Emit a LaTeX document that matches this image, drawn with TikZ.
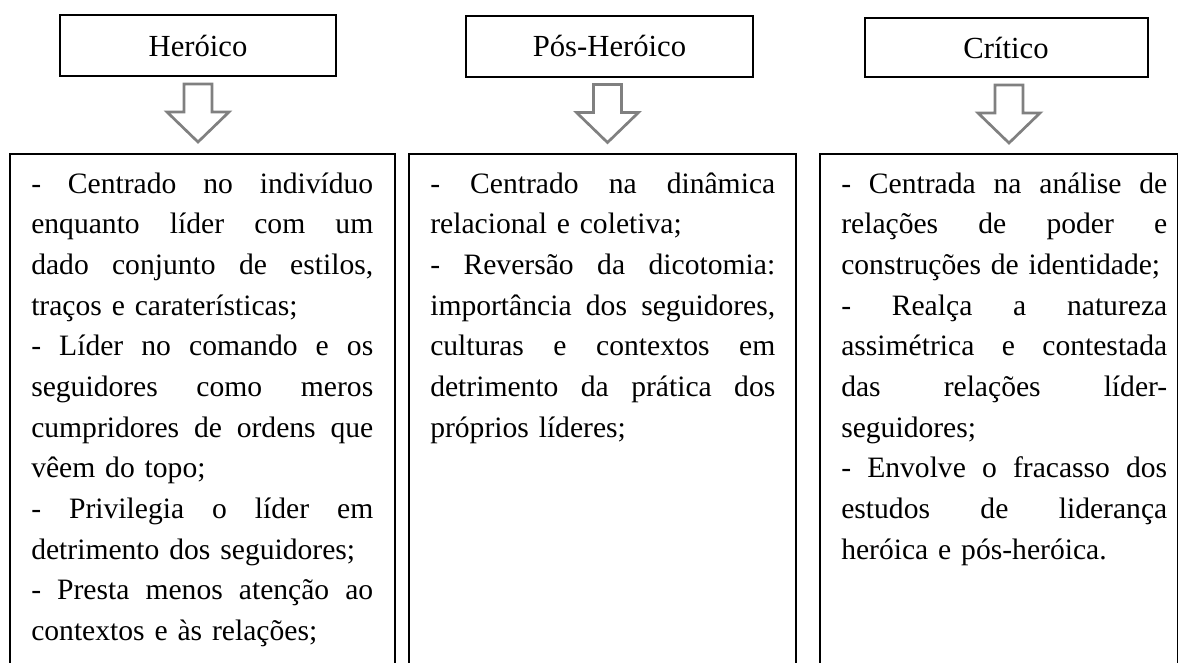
\documentclass[tikz,border=0pt]{standalone}
\usepackage{fontspec}
\setmainfont{Liberation Serif}
\newlength{\pxu}
\setlength{\pxu}{0.75pt}
\definecolor{arrowgray}{RGB}{128,128,128}
%% one justified line of a column
\newcommand{\jl}[1]{\makebox[\hsize][s]{\spaceskip=0pt\xspaceskip=0pt\strut #1}}
\begin{document}
\begin{tikzpicture}[x=0.75pt,y=-0.75pt,
    headbox/.style={draw,line width=2\pxu,minimum height=61\pxu,inner sep=0pt,
        font=\fontsize{23}{30.5}\selectfont},
    colbox/.style={draw,line width=2\pxu,anchor=north west,minimum height=547\pxu,inner sep=0pt},
    coltext/.style={anchor=north west,inner sep=0pt,align=left,
        font=\fontsize{22.2}{30.5}\selectfont},
    hollow/.style={draw=arrowgray,line width=2.7\pxu,line join=miter,fill=white}]
    \useasboundingbox (0,0) rectangle (1178,662);
    \clip (0,0) rectangle (1178,662);
    %% Headings
    \node[headbox,minimum width=276\pxu] (H) at (198,45.5) {Heróico};
    \node[headbox,minimum width=287\pxu] (P) at (609.5,46) {Pós-Heróico};
    \node[headbox,minimum width=283\pxu,minimum height=59\pxu] (C) at (1006,47.5) {Crítico};
    %% Columns
    \node[colbox,minimum width=385\pxu] (BH) at (9,153) {};
    \node[colbox,minimum width=387\pxu] (BP) at (408,153) {};
    \node[colbox,minimum width=358\pxu] (BC) at (819,153) {};
    %% Arrows
    \draw[hollow] (H.south) ++(-14,7) -- ++(0,28) -- ++(-17,0) -- ++(31,30)
        -- ++(31,-30) -- ++(-17,0) -- ++(0,-28) -- cycle;
    \draw[hollow] (P.south) ++(-16,7) -- ++(0,28) -- ++(-17,0) -- ++(31,30)
        -- ++(31,-30) -- ++(-17,0) -- ++(0,-28) -- cycle;
    \draw[hollow] (C.south) ++(-11,7) -- ++(0,28) -- ++(-17,0) -- ++(31,30)
        -- ++(31,-30) -- ++(-17,0) -- ++(0,-28) -- cycle;
    %% Texts
    \node[coltext,text width=342\pxu] (TH) at (31,164.5) {%
        \jl{- Centrado no indivíduo}\\
        \jl{enquanto líder com um}\\
        \jl{dado conjunto de estilos,}\\
        \strut traços e caraterísticas;\\
        \jl{- Líder no comando e os}\\
        \jl{seguidores como meros}\\
        \jl{cumpridores de ordens que}\\
        \strut vêem do topo;\\
        \jl{- Privilegia o líder em}\\
        \strut detrimento dos seguidores;\\
        \jl{- Presta menos atenção ao}\\
        \strut contextos e às relações;};
    \node[coltext,text width=345\pxu] (TP) at (430,164.5) {%
        \jl{- Centrado na dinâmica}\\
        \strut relacional e coletiva;\\
        \jl{- Reversão da dicotomia:}\\
        \jl{importância dos seguidores,}\\
        \jl{culturas e contextos em}\\
        \jl{detrimento da prática dos}\\
        \strut próprios líderes;};
    \node[coltext,text width=326\pxu] (TC) at (841,164.5) {%
        \jl{- Centrada na análise de}\\
        \jl{relações de poder e}\\
        \strut construções de identidade;\\
        \jl{- Realça a natureza}\\
        \jl{assimétrica e contestada}\\
        \jl{das relações líder-}\\
        \strut seguidores;\\
        \jl{- Envolve o fracasso dos}\\
        \jl{estudos de liderança}\\
        \strut heróica e pós-heróica.};
\end{tikzpicture}
\end{document}
